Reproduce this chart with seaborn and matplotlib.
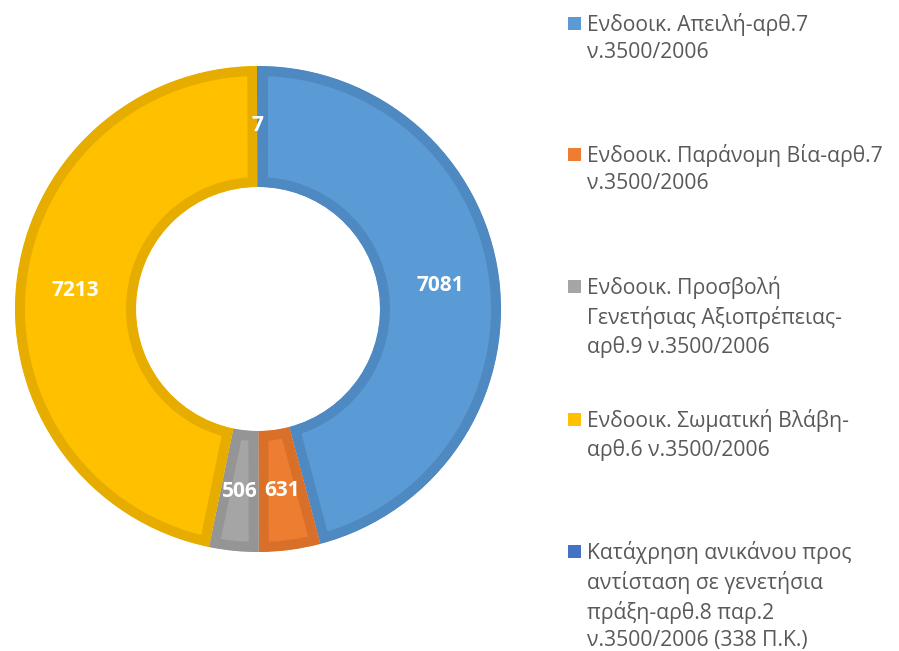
import numpy as np
import pandas as pd
import matplotlib
matplotlib.use('Agg')
import matplotlib.pyplot as plt
import seaborn as sns
from matplotlib.patches import Rectangle

labels = ['Ενδοοικ. Απειλή-αρθ.7\nν.3500/2006',
          'Ενδοοικ. Παράνομη Βία-αρθ.7\nν.3500/2006',
          'Ενδοοικ. Προσβολή\nΓενετήσιας Αξιοπρέπειας-\nαρθ.9 ν.3500/2006',
          'Ενδοοικ. Σωματική Βλάβη-\nαρθ.6 ν.3500/2006',
          'Κατάχρηση ανικάνου προς\nαντίσταση σε γενετήσια\nπράξη-αρθ.8 παρ.2\nν.3500/2006 (338 Π.Κ.)']
values = [7081, 631, 506, 7213, 7]
colors = ['#5B9BD5', '#ED7D31', '#A5A5A5', '#FFC000', '#4472C4']
edge_colors = ['#4E89C2', '#D9702A', '#959595', '#E6AD00', '#3A64AE']

sns.set_theme(style='white')
plt.rcParams['font.family'] = ['Open Sans', 'DejaVu Sans']

fig = plt.figure(figsize=(8.99, 6.51), dpi=100)
ax = fig.add_axes([15/899, 99/651, 486/899, 486/651])

total = sum(values)
wedges, texts, autotexts = ax.pie(
    values, colors=colors, startangle=90, counterclock=False, radius=1.0,
    wedgeprops=dict(width=0.498, linewidth=14.4),
    autopct=lambda p: f'{p * total / 100:.0f}', pctdistance=0.755,
    textprops=dict(color='white', fontsize=15, fontweight='bold'))

# borders drawn inside each slice only
for w, ec in zip(wedges, edge_colors):
    w.set_edgecolor(ec)
    w.set_clip_on(True)
    w.set_clip_path(w)

ax.set_xlim(-1, 1)
ax.set_ylim(-1, 1)
ax.set_aspect('equal')

# legend on the right, first lines evenly spaced
first_line = [23, 154, 286, 419, 551]
for lab, col, y in zip(labels, colors, first_line):
    fig.text(587/899, 1 - (y - 10)/651, lab, fontsize=15.2, color='#595959',
             va='top', ha='left', linespacing=1.39)
    fig.patches.append(Rectangle((567.5/899, 1 - (y + 7)/651), 13/899, 13/651,
                                 transform=fig.transFigure, facecolor=col,
                                 edgecolor='none'))

plt.savefig('out.png', dpi=100)
